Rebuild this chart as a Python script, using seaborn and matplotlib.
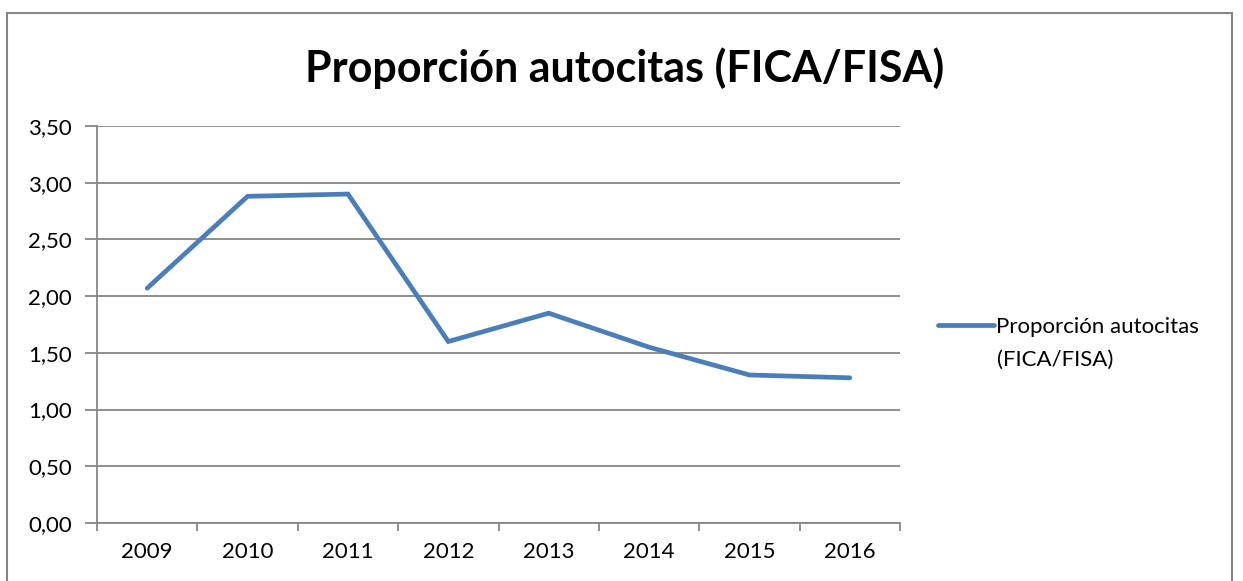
import matplotlib
matplotlib.use("Agg")
import matplotlib.pyplot as plt
import matplotlib.patches as mpatches
import pandas as pd
import seaborn as sns

years = ["2009", "2010", "2011", "2012", "2013", "2014", "2015", "2016"]
ratio = [2.07, 2.88, 2.90, 1.60, 1.85, 1.55, 1.305, 1.28]
y_ticks = [0.0, 0.5, 1.0, 1.5, 2.0, 2.5, 3.0, 3.5]
y_labels = ["0,00", "0,50", "1,00", "1,50", "2,00", "2,50", "3,00", "3,50"]
series_name = "Proporción autocitas"
series_name_2 = "(FICA/FISA)"

sns.set_style("white")
plt.rcParams["font.family"] = ["Lato", "DejaVu Sans"]
plt.rcParams["text.color"] = "black"

df = pd.DataFrame({"year": years, "ratio": ratio})

fig = plt.figure(figsize=(12.43, 5.81), dpi=100)
ax = fig.add_axes([97 / 1243, 1 - 523 / 581, 803 / 1243, 397 / 581])

# outer chart border
fig.patches.append(mpatches.Rectangle((7 / 1243, -0.05), 1225 / 1243, 1 - 13 / 581 + 0.05,
                                      transform=fig.transFigure, fill=False,
                                      edgecolor="#868686", linewidth=1.5))

sns.lineplot(data=df, x="year", y="ratio", ax=ax, color="#4A7EBB",
             linewidth=3.4, label=series_name, sort=False,
             solid_capstyle="round", solid_joinstyle="miter")

ax.set_xlim(-0.5, 7.5)
ax.set_ylim(0, 3.5)
ax.set_yticks(y_ticks)
ax.set_yticklabels(y_labels, fontsize=16, color="black")
ax.set_xticks(range(len(years)))
ax.set_xticklabels(years, fontsize=16, color="black")
ax.set_xticks([i - 0.5 for i in range(len(years) + 1)], minor=True)
ax.tick_params(axis="x", which="major", bottom=True, length=0, pad=14)
ax.tick_params(axis="x", which="minor", bottom=True, length=6, width=1.3,
               color="#868686", direction="out")
ax.tick_params(axis="y", left=True, length=9, width=1.3, color="#868686",
               direction="out", pad=9)
ax.grid(axis="y", color="#868686", linewidth=1.3)
ax.set_axisbelow(True)
for side in ["top", "right"]:
    ax.spines[side].set_visible(False)
for side in ["left", "bottom"]:
    ax.spines[side].set_color("#868686")
    ax.spines[side].set_linewidth(1.3)
ax.set_xlabel("")
ax.set_ylabel("")

fig.text(625 / 1243, 1 - 68 / 581, "Proporción autocitas (FICA/FISA)",
         ha="center", va="center", fontsize=31, fontweight="bold")

ax.legend(loc="center left", bbox_to_anchor=(1 + (938 - 900) / 803, 1 - (327 - 126) / 397),
          frameon=False, fontsize=16, handlelength=2.5, handletextpad=0.12,
          borderaxespad=0, borderpad=0)
fig.text(997 / 1243, 1 - 360 / 581, series_name_2, ha="left", va="center",
         fontsize=16)

fig.savefig("out.png", dpi=100)
